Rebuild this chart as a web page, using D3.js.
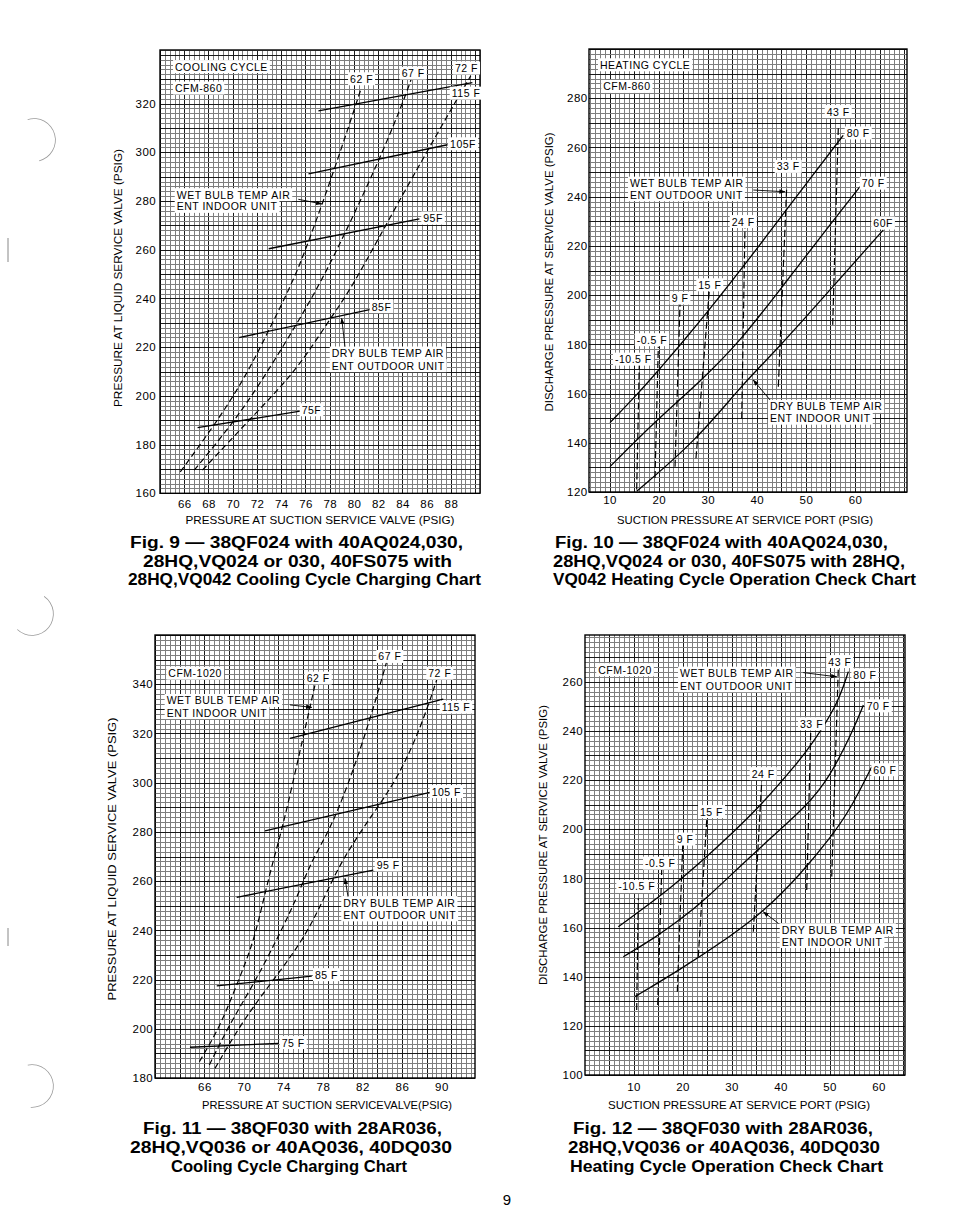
<!DOCTYPE html>
<html><head><meta charset="utf-8">
<script src="https://cdn.jsdelivr.net/npm/d3@7"></script>
<style>
body{margin:0;background:#fff;}
svg{display:block;}
text{font-family:"Liberation Sans",Arial,sans-serif;fill:#000;}
</style></head><body>
<script>
// ================= DATA =================
// ---- Fig. 9 : cooling, CFM-860 ----
const fig9XTicks=[66,68,70,72,74,76,78,80,82,84,86,88];
const fig9YTicks=[160,180,200,220,240,260,280,300,320];
const fig9WB62=[[65.67,168.8],[68.6,188.7],[71.06,207.8],[72.97,226.9],[75.02,247.4],[76.25,263.1],[78.43,293.4],[80.62,326.6]];
const fig9WB67=[[66.82,169.5],[70.1,189.3],[72.43,206.4],[75.3,229.6],[77.34,247.4],[79.25,266.5],[82.26,298.6],[84.31,323.9],[84.75,330.5]];
const fig9WB72=[[67.5,169.5],[71.6,191.4],[75.3,210.5],[78.02,231.7],[79.7,243.3],[82.67,270.6],[86.22,302],[88.27,319.8],[89.64,331.4]];
const fig9DB115=[[77.07,317.0],[89.77,328.6]];
const fig9DB105=[[76.25,291.1],[87.72,303.1]];
const fig9DB95=[[72.97,260.4],[85.4,272.7]];
const fig9DB85=[[70.5,223.9],[81.3,235.4]];
const fig9DB75=[[67.1,187.0],[75.57,193.7]];
const fig9Notes=[["COOLING CYCLE",65.24,335.1],["CFM-860",65.24,326.3],["62 F",79.68,330.1],["67 F",83.94,332.4],["72 F",88.34,334.5],["115 F",88.07,324.2],["105F",87.93,303.4],["95F",85.72,272.9],["WET BULB TEMP AIR",65.38,282.5],["ENT INDOOR UNIT",65.38,277.7],["85F",81.47,236.6],["DRY BULB TEMP AIR",78.17,217.5],["ENT OUTDOOR UNIT",78.17,212.3],["75F",75.69,194.2]];
const fig9Leaders=[[[75.41,280.7],[77.34,278.8]],[[79.26,220.2],[78.99,231.8]]];

// ---- Fig. 10 : heating, CFM-860 ----
const fig10XTicks=[10,20,30,40,50,60];
const fig10YTicks=[120,140,160,180,200,220,240,260,280];
const fig10DB80=[[10.08,148.2],[15.85,160.1],[20.2,170],[24.35,179.7],[29.79,192.6],[40.65,220.4],[46.5,236],[57.6,264.9]];
const fig10DB70=[[10.08,130.3],[19.6,149.3],[28.42,164.8],[36.57,181.1],[45.4,204],[55.93,231.2],[61.03,244.1]];
const fig10DB60=[[15.52,120.3],[27.75,141.1],[37.25,164.2],[44.05,177.7],[54.91,202.1],[65.78,226.5]];
const fig10WBm105=[[15.52,121],[16.05,171.6]];
const fig10WBm05=[[19.25,125.7],[19.92,179.0]];
const fig10WB9=[[23.33,130.3],[24.35,196.7]];
const fig10WB15=[[27.6,133.7],[30.32,202.1]];
const fig10WB24=[[36.92,149.9],[37.59,228.5]];
const fig10WB33=[[44.38,162.8],[46.09,244.1]];
const fig10WB43=[[55.46,187.9],[56.6,267.8]];
const fig10Notes=[["HEATING CYCLE",8.04,293.5],["CFM-860",8.71,284.7],["43 F",54.24,274.5],["80 F",58.32,265.8],["33 F",44.05,252.2],["WET BULB TEMP AIR",14.16,245.4],["ENT OUTDOOR UNIT",14.16,240.7],["70 F",61.37,245.4],["24 F",34.88,229.8],["60F",63.74,229.2],["15 F",28.07,204.1],["9 F",22.65,198.7],["-0.5 F",15.52,181.8],["-10.5 F",11.1,173.9],["DRY BULB TEMP AIR",42.69,154.7],["ENT INDOOR UNIT",42.69,149.9]];
const fig10Leaders=[[[39.28,242.7],[45.74,242.0]],[[42.69,157.4],[39.28,165.5]]];

// ---- Fig. 11 : cooling, CFM-1020 ----
const fig11XTicks=[66,70,74,78,82,86,90];
const fig11YTicks=[180,200,220,240,260,280,300,320,340];
const fig11WB62=[[65.49,186.6],[67.58,200.8],[69.27,217.8],[70.95,234.7],[71.97,252.3],[72.98,268.6],[73.99,282.8],[76.01,318.7],[77.2,339.7]];
const fig11WB67=[[66.5,185.3],[68.59,202.2],[70.95,217.8],[73.32,236.1],[75.35,253.0],[76.87,268.6],[78.72,280.8],[80.74,301.1],[82.77,325.5],[84.46,349.2]];
const fig11WB72=[[67.07,183.9],[69.94,203.6],[72.98,219.8],[76.01,236.1],[78.04,252.3],[79.9,268.6],[83.1,287.6],[85.47,301.1],[87.83,321.4],[89.52,341.7]];
const fig11DB115=[[74.67,318.0],[90.19,333.9]];
const fig11DB105=[[72.14,280.4],[88.84,296.1]];
const fig11DB95=[[69.27,253.4],[83.1,264.5]];
const fig11DB85=[[67.25,217.4],[76.87,221.4]];
const fig11DB75=[[64.54,192.5],[73.48,194.1]];
const fig11Notes=[["CFM-1020",62.35,344.4],["62 F",76.36,342.4],["67 F",83.61,351.2],["72 F",88.67,344.4],["WET BULB TEMP AIR",62.18,333.3],["ENT INDOOR UNIT",62.18,328.4],["115 F",90.03,330.6],["105 F",89.01,296.3],["95 F",83.45,266.5],["DRY BULB TEMP AIR",80.06,251.2],["ENT OUTDOOR UNIT",80.06,246.2],["85 F",77.2,221.9],["75 F",73.83,194.3]];
const fig11Leaders=[[[74.67,331.6],[76.87,330.6]],[[80.54,253.7],[80.24,261.1]]];

// ---- Fig. 12 : heating, CFM-1020 ----
const fig12XTicks=[10,20,30,40,50,60];
const fig12YTicks=[100,120,140,160,180,200,220,240,260];
const fig12DB80=[[6.9,160.3],[15.75,173.2],[19.83,180.0],[24.59,188.2],[29.69,197.6],[35.81,209.2],[43.98,228.2],[46.02,233.6],[51.47,249.8],[53.84,264.1]];
const fig12DB70=[[7.92,148.1],[14.73,156.3],[19.49,163.3],[23.92,169.9],[35.14,191.5],[45.34,209.2],[50.1,221.4],[54.86,240.4],[56.9,250.5]];
const fig12DB60=[[10.3,131.9],[19.14,142.4],[29.69,156.3],[36.49,166.4],[43.98,181.4],[50.1,196.3],[54.18,207.8],[58.61,225.4]];
const fig12WBm105=[[10.65,126.4],[10.98,171.9]];
const fig12WBm05=[[14.94,128.5],[15.75,183.4]];
const fig12WB9=[[18.94,133.9],[20.04,193.6]];
const fig12WB15=[[23.22,148.1],[24.94,203.7]];
const fig12WB24=[[34.45,158.3],[36.16,219.3]];
const fig12WB33=[[45.35,175.3],[46.16,239.7]];
const fig12WB43=[[50.45,180.7],[51.79,265.5]];
const fig12Notes=[["CFM-1020",2.81,264.8],["WET BULB TEMP AIR",19.49,263.4],["ENT OUTDOOR UNIT",19.49,258.3],["43 F",49.75,268.1],["80 F",54.86,262.7],["70 F",57.59,250.1],["33 F",43.98,242.8],["60 F",58.94,224.1],["24 F",34.12,222.5],["15 F",23.57,207.1],["9 F",18.81,195.9],["-0.5 F",12.35,186.1],["-10.5 F",6.9,176.6],["DRY BULB TEMP AIR",40.24,159.0],["ENT INDOOR UNIT",40.24,154.2]];
const fig12Leaders=[[[44.65,263.7],[51.47,262.0]],[[39.55,161.7],[36.49,166.4]]];

// ================= LAYOUT / DRAW =================
const svg=d3.select('body').append('svg').attr('width',954).attr('height',1228);
svg.append('rect').attr('width',954).attr('height',1228).attr('fill','#fff');
const defs=svg.append('defs');
defs.append('marker').attr('id','arr').attr('viewBox','0 0 10 10').attr('refX',9).attr('refY',5)
  .attr('markerWidth',7).attr('markerHeight',7).attr('orient','auto')
  .append('path').attr('d','M0,1.5L10,5L0,8.5Z').attr('fill','#000');

function drawChart(c){
  const g=svg.append('g');
  const x=d3.scaleLinear().domain(c.xDomain).range([c.left,c.right]);
  const y=d3.scaleLinear().domain(c.yDomain).range([c.bottom,c.top]);
  const eps=1e-6;
  const isMaj=(v,m)=>Math.abs(v/m-Math.round(v/m))<1e-3;
  const xs=d3.range(c.xGrid[0],c.xDomain[1]+eps,c.xGrid[1]);
  const ys=d3.range(c.yGrid[0],c.yDomain[1]+eps,c.yGrid[1]);
  const grid=g.append('g').attr('shape-rendering','crispEdges');
  grid.selectAll('line.v').data(xs).join('line').attr('class','v')
    .attr('x1',d=>Math.round(x(d))+0.5).attr('x2',d=>Math.round(x(d))+0.5)
    .attr('y1',c.top).attr('y2',c.bottom)
    .attr('stroke',d=>isMaj(d-c.xGrid[2],c.xGrid[3])?'#1a1a1a':'#7e7e7e').attr('stroke-width',1);
  grid.selectAll('line.h').data(ys).join('line').attr('class','h')
    .attr('y1',d=>Math.round(y(d))+0.5).attr('y2',d=>Math.round(y(d))+0.5)
    .attr('x1',c.left).attr('x2',c.right)
    .attr('stroke',d=>isMaj(d-c.yGrid[2],c.yGrid[3])?'#1a1a1a':'#7e7e7e').attr('stroke-width',1);
  g.append('rect').attr('x',c.left).attr('y',c.top).attr('width',c.right-c.left).attr('height',c.bottom-c.top)
    .attr('fill','none').attr('stroke','#000').attr('stroke-width',1.4);

  const line=d3.line().x(d=>x(d[0])).y(d=>y(d[1])).curve(d3.curveBasis);
  const lin=d3.line().x(d=>x(d[0])).y(d=>y(d[1]));
  c.solid.forEach(s=>g.append('path').attr('d',(s.length>2?line:lin)(s)).attr('fill','none')
    .attr('stroke','#000').attr('stroke-width',1.3));
  c.dashed.forEach(s=>g.append('path').attr('d',(s.length>2?line:lin)(s)).attr('fill','none')
    .attr('stroke','#000').attr('stroke-width',1.2).attr('stroke-dasharray',c.dash));

  c.notes.forEach(([t,vx,vy])=>{
    const gg=g.append('g');
    const r=gg.append('rect').attr('fill','#fff');
    const tx=gg.append('text').attr('x',x(vx)).attr('y',y(vy)).attr('dy','0.36em')
      .attr('font-size',10.5).attr('letter-spacing',0.5).text(t);
    const b=tx.node().getBBox();
    r.attr('x',b.x-2).attr('y',b.y-0.5).attr('width',b.width+4).attr('height',b.height+1);
  });
  c.leaders.forEach(s=>g.append('path').attr('d',lin(s)).attr('fill','none').attr('stroke','#000')
    .attr('stroke-width',0.9).attr('marker-end','url(#arr)'));

  const ya=d3.axisLeft(y).tickValues(c.yTicks).tickSize(0).tickPadding(c.yPad).tickFormat(d3.format('d'));
  g.append('g').attr('transform',`translate(${c.left},0)`).call(ya)
    .attr('font-size',11.5).attr('font-family','"Liberation Sans",Arial,sans-serif')
    .call(a=>a.select('.domain').remove()).selectAll('text').attr('fill','#000').attr('letter-spacing',0.4);
  const xa=d3.axisBottom(x).tickValues(c.xTicks).tickSize(0).tickPadding(c.xPad).tickFormat(d3.format('d'));
  g.append('g').attr('transform',`translate(0,${c.bottom})`).call(xa)
    .attr('font-size',11.5).attr('font-family','"Liberation Sans",Arial,sans-serif')
    .call(a=>a.select('.domain').remove()).selectAll('text').attr('fill','#000').attr('letter-spacing',0.4);

  // axis titles
  g.append('text').attr('x',c.xt[0]).attr('y',c.xt[1]).attr('text-anchor','middle')
    .attr('font-size',10.5).attr('textLength',c.xt[2]).attr('lengthAdjust','spacingAndGlyphs').text(c.xTitle);
  g.append('text').attr('transform',`translate(${c.yt[0]},${c.yt[1]}) rotate(-90)`).attr('text-anchor','middle')
    .attr('font-size',10.5).attr('textLength',c.yt[2]).attr('lengthAdjust','spacingAndGlyphs').text(c.yTitle);
  // caption
  c.caption.forEach((t,i)=>{
    const p=c.capPos[i];
    g.append('text').attr('x',p[0]).attr('y',p[1]).attr('font-size',16).attr('font-weight','bold')
      .attr('textLength',p[2]).attr('lengthAdjust','spacingAndGlyphs').text(t);
  });
}

drawChart({left:160,right:480,top:50,bottom:493.3,xDomain:[64,90.4],yDomain:[160,342],
  xGrid:[64,0.4,64,2],yGrid:[160,2,160,10],xTicks:fig9XTicks,yTicks:fig9YTicks,xPad:6.5,yPad:4,
  solid:[fig9DB115,fig9DB105,fig9DB95,fig9DB85,fig9DB75],dashed:[fig9WB62,fig9WB67,fig9WB72],dash:'6,3.5',
  notes:fig9Notes,leaders:fig9Leaders,
  xTitle:'PRESSURE AT SUCTION SERVICE VALVE (PSIG)',xt:[320,524,269],
  yTitle:'PRESSURE AT LIQUID SERVICE VALVE (PSIG)',yt:[122,278,258],
  caption:['Fig. 9 — 38QF024 with 40AQ024,030,','28HQ,VQ024 or 030, 40FS075 with','28HQ,VQ042 Cooling Cycle Charging Chart'],
  capPos:[[130,548,333],[143,567,309],[128,585,353]]});

drawChart({left:589,right:907,top:49,bottom:492,xDomain:[5.8,70.6],yDomain:[120,300],
  xGrid:[6,1,0,5],yGrid:[120,2,120,10],xTicks:fig10XTicks,yTicks:fig10YTicks,xPad:4,yPad:1.5,
  solid:[fig10DB80,fig10DB70,fig10DB60],dashed:[fig10WBm105,fig10WBm05,fig10WB9,fig10WB15,fig10WB24,fig10WB33,fig10WB43],dash:'7,3',
  notes:fig10Notes,leaders:fig10Leaders,
  xTitle:'SUCTION PRESSURE AT SERVICE PORT (PSIG)',xt:[745,524,256],
  yTitle:'DISCHARGE PRESSURE AT SERVICE VALVE (PSIG)',yt:[553,272,279],
  caption:['Fig. 10 — 38QF024 with 40AQ024,030,','28HQ,VQ024 or 030, 40FS075 with 28HQ,','VQ042 Heating Cycle Operation Check Chart'],
  capPos:[[555,548,333],[553,567,352],[553,585,363]]});

drawChart({left:155,right:475,top:635,bottom:1078,xDomain:[61,93.4],yDomain:[180,360],
  xGrid:[61,0.5,61,2.5],yGrid:[180,2,180,10],xTicks:fig11XTicks,yTicks:fig11YTicks,xPad:4.5,yPad:2,
  solid:[fig11DB115,fig11DB105,fig11DB95,fig11DB85,fig11DB75],dashed:[fig11WB62,fig11WB67,fig11WB72],dash:'6,3.5',
  notes:fig11Notes,leaders:fig11Leaders,
  xTitle:'PRESSURE AT SUCTION SERVICEVALVE(PSIG)',xt:[327,1109,250],
  yTitle:'PRESSURE AT LIQUID SERVICE VALVE (PSIG)',yt:[116,859,283],
  caption:['Fig. 11 — 38QF030 with 28AR036,','28HQ,VQ036 or 40AQ036, 40DQ030','Cooling Cycle Charging Chart'],
  capPos:[[143,1134,299],[130,1153,322],[171,1172,236]]});

drawChart({left:585,right:905,top:635,bottom:1075,xDomain:[0.1,65.4],yDomain:[100,279],
  xGrid:[1,1,0,5],yGrid:[100,2,100,10],xTicks:fig12XTicks,yTicks:fig12YTicks,xPad:7.5,yPad:2,
  solid:[fig12DB80,fig12DB70,fig12DB60],dashed:[fig12WBm105,fig12WBm05,fig12WB9,fig12WB15,fig12WB24,fig12WB33,fig12WB43],dash:'7,3',
  notes:fig12Notes,leaders:fig12Leaders,
  xTitle:'SUCTION PRESSURE AT SERVICE PORT (PSIG)',xt:[739,1109,262],
  yTitle:'DISCHARGE PRESSURE AT SERVICE VALVE (PSIG)',yt:[547,845,280],
  caption:['Fig. 12 — 38QF030 with 28AR036,','28HQ,VQ036 or 40AQ036, 40DQ030','Heating Cycle Operation Check Chart'],
  capPos:[[573,1134,300],[568,1153,312],[570,1172,313]]});

// page number and binder-hole marks
svg.append('text').attr('x',507).attr('y',1205).attr('text-anchor','middle')
  .attr('font-family','"Liberation Serif",serif').attr('font-size',15).text('9');
const hole=d3.arc().innerRadius(21).outerRadius(21.8);
[[34,140,-0.3,2.9],[32,614,0.6,3.9],[32,1086,-0.2,3.2]].forEach(([cx,cy,a0,a1])=>
  svg.append('path').attr('transform',`translate(${cx},${cy})`)
    .attr('d',hole({startAngle:a0,endAngle:a1})).attr('fill','#9a9a9a'));
svg.append('line').attr('x1',8).attr('x2',8).attr('y1',238).attr('y2',262).attr('stroke','#888');
svg.append('line').attr('x1',8).attr('x2',8).attr('y1',928).attr('y2',946).attr('stroke','#888');
</script>
</body></html>
